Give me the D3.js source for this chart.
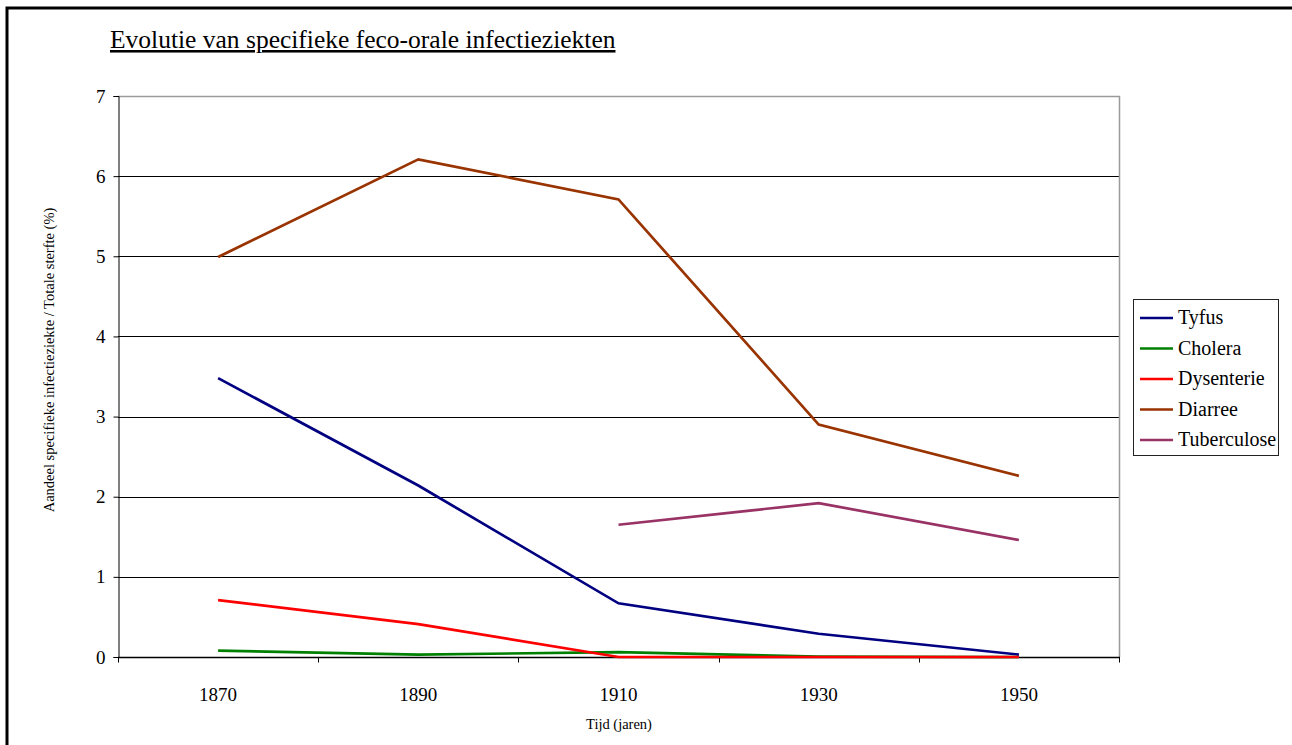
<!DOCTYPE html>
<html>
<head>
<meta charset="utf-8">
<script src="https://cdn.jsdelivr.net/npm/d3@7"></script>
<style>
  html, body { margin: 0; padding: 0; background: #fff; }
  svg { display: block; }
  svg text { font-family: "Liberation Serif", "Times New Roman", serif !important; }
</style>
</head>
<body>
<svg id="chart" width="1292" height="745"></svg>
<script>
// Share of specific infectious diseases in total mortality (%), per 20-year step
const years = ["1870", "1890", "1910", "1930", "1950"];
const seriesNames = ["Tyfus", "Cholera", "Dysenterie", "Diarree", "Tuberculose"];
const tyfus = [3.48, 2.14, 0.67, 0.29, 0.03];
const cholera = [0.08, 0.03, 0.06, 0.005, 0.0];
const dysenterie = [0.71, 0.41, 0.0, 0.0, 0.0];
const diarree = [4.99, 6.21, 5.71, 2.9, 2.26];
const tuberculose = [null, null, 1.65, 1.92, 1.46];
const yTicks = [0, 1, 2, 3, 4, 5, 6, 7];
const colors = ["#000080", "#008000", "#ff0000", "#993300", "#993366"];

const seriesValues = [tyfus, cholera, dysenterie, diarree, tuberculose];

const svg = d3.select("#chart");

// Outer frame (top and left edges)
svg.append("path")
  .attr("d", "M7,1500 L7,8 L1300,8")
  .attr("fill", "none")
  .attr("stroke", "#000")
  .attr("stroke-width", 3);

// Title
svg.append("text")
  .attr("x", 110)
  .attr("y", 48)
  .attr("font-size", 25.5)
  .attr("text-decoration", "underline")
  .attr("fill", "#000")
  .text("Evolutie van specifieke feco-orale infectieziekten");

const plot = { left: 118, right: 1119, top: 96, bottom: 657 };

const x = d3.scaleBand()
  .domain(years)
  .range([plot.left, plot.right])
  .padding(0);

const y = d3.scaleLinear()
  .domain([0, 7])
  .range([plot.bottom, plot.top]);

// Horizontal gridlines
svg.append("g")
  .selectAll("line")
  .data(yTicks.filter(d => d > 0 && d < 7))
  .join("line")
  .attr("x1", plot.left)
  .attr("x2", plot.right)
  .attr("y1", d => Math.round(y(d)) + 0.5)
  .attr("y2", d => Math.round(y(d)) + 0.5)
  .attr("stroke", "#000")
  .attr("stroke-width", 1);

// Plot-area border on top and right
svg.append("path")
  .attr("d", `M${plot.left},${Math.round(plot.top) + 0.5} L${plot.right + 0.5},${Math.round(plot.top) + 0.5} L${plot.right + 0.5},${plot.bottom}`)
  .attr("fill", "none")
  .attr("stroke", "#9a9a9a")
  .attr("stroke-width", 1.5);

// Y axis
const yAxis = svg.append("g")
  .attr("transform", `translate(${plot.left + 0.5},0)`)
  .call(d3.axisLeft(y).tickValues(yTicks).tickSize(5).tickPadding(8).tickFormat(d3.format("d")));
yAxis.select(".domain").attr("stroke", "#000");
yAxis.selectAll(".tick line").attr("stroke", "#000");
yAxis.selectAll(".tick text")
  .attr("font-size", 19)
  .attr("fill", "#000");

// X axis: ticks between categories
const xAxis = svg.append("g")
  .attr("transform", `translate(0,${plot.bottom + 0.5})`);
xAxis.append("line")
  .attr("x1", plot.left)
  .attr("x2", plot.right + 1)
  .attr("stroke", "#000")
  .attr("stroke-width", 1.5);
const boundaries = years.map(d => x(d)).concat([x(years[years.length - 1]) + x.bandwidth()]);
xAxis.selectAll("line.tk")
  .data(boundaries)
  .join("line")
  .attr("class", "tk")
  .attr("x1", d => Math.round(d) + 0.5)
  .attr("x2", d => Math.round(d) + 0.5)
  .attr("y1", 0)
  .attr("y2", 5)
  .attr("stroke", "#000");
xAxis.selectAll("text")
  .data(years)
  .join("text")
  .attr("x", d => x(d) + x.bandwidth() / 2)
  .attr("y", 43)
  .attr("text-anchor", "middle")
  .attr("font-size", 19)
  .attr("fill", "#000")
  .text(d => d);

// Axis titles
svg.append("text")
  .attr("x", 619)
  .attr("y", 729)
  .attr("text-anchor", "middle")
  .attr("font-size", 14.5)
  .attr("fill", "#000")
  .text("Tijd (jaren)");

svg.append("text")
  .attr("transform", "translate(54,360) rotate(-90)")
  .attr("text-anchor", "middle")
  .attr("font-size", 14.5)
  .attr("fill", "#000")
  .text("Aandeel specifieke infectieziekte / Totale sterfte (%)");

// Series lines
const line = d3.line()
  .defined(d => d.v !== null)
  .x(d => x(d.year) + x.bandwidth() / 2)
  .y(d => y(d.v));

svg.append("g")
  .selectAll("path")
  .data(seriesValues.map((vals, i) => ({ name: seriesNames[i], color: colors[i], pts: vals.map((v, j) => ({ year: years[j], v })) })))
  .join("path")
  .attr("d", d => line(d.pts))
  .attr("fill", "none")
  .attr("stroke", d => d.color)
  .attr("stroke-width", 2.7)
  .attr("stroke-linejoin", "miter");

// Legend
const lg = svg.append("g").attr("transform", "translate(1133,299)");
lg.append("rect")
  .attr("x", 0.5)
  .attr("y", 0.5)
  .attr("width", 145)
  .attr("height", 156)
  .attr("fill", "#fff")
  .attr("stroke", "#222")
  .attr("stroke-width", 1);
const items = lg.selectAll("g.item")
  .data(seriesNames)
  .join("g")
  .attr("class", "item")
  .attr("transform", (d, i) => `translate(0,${19 + i * 30.5})`);
items.append("line")
  .attr("x1", 7)
  .attr("x2", 40)
  .attr("stroke", (d, i) => colors[i])
  .attr("stroke-width", 2.7);
items.append("text")
  .attr("x", 45)
  .attr("y", 6)
  .attr("font-size", 20)
  .attr("fill", "#000")
  .text(d => d);
</script>
</body>
</html>
